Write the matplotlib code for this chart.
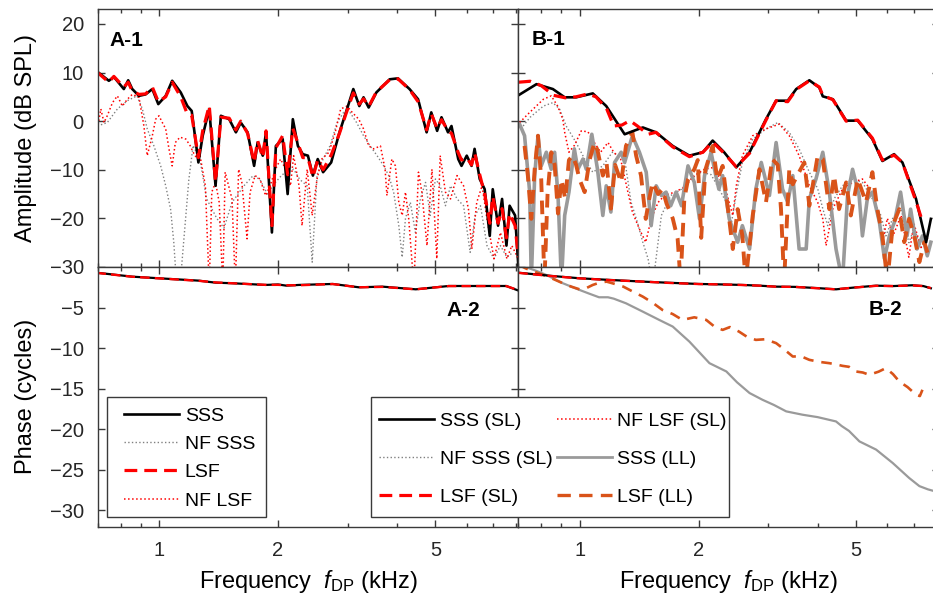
import numpy as np
import matplotlib
matplotlib.use("Agg")
import matplotlib.pyplot as plt
from matplotlib.ticker import FixedLocator, NullFormatter
from matplotlib.patches import Rectangle

plt.rcParams['font.family'] = ['Liberation Sans', 'DejaVu Sans']
plt.rcParams['mathtext.fontset'] = 'custom'
plt.rcParams['mathtext.rm'] = 'Liberation Sans'
plt.rcParams['mathtext.it'] = 'Liberation Sans:italic'
plt.rcParams['axes.unicode_minus'] = True

# ---- A-1 amplitude (dB SPL) ----
a1_f = [0.695, 0.747, 0.769, 0.815, 0.836, 0.856, 0.89, 0.925, 0.962, 0.996,
        1.04, 1.08, 1.135, 1.18, 1.21, 1.258, 1.29, 1.34, 1.39, 1.434,
        1.505, 1.565, 1.61, 1.675, 1.74, 1.776, 1.83, 1.865, 1.93, 1.975,
        2.055, 2.115, 2.18, 2.245, 2.31, 2.38, 2.45, 2.52, 2.6, 2.725,
        2.86, 2.97, 3.1, 3.21, 3.29, 3.39, 3.545, 3.83, 4.02, 4.3,
        4.52, 4.75, 4.88, 5.05, 5.18, 5.38, 5.49, 5.71, 5.82, 6.0,
        6.17, 6.28, 6.47, 6.66, 6.86, 6.98, 7.2, 7.37, 7.56, 7.7,
        7.95, 8.1]
a1_sss = [10.3, 8.3, 9.1, 6.6, 8.4, 6.6, 5.2, 5.5, 6.6, 3.5,
          5.2, 8.3, 5.9, 3.1, 2.1, -8.5, -3.0, 2.5, -13.3, 1.1,
          0.4, -2.3, -0.3, -2.3, -9.2, -4.4, -7.1, -2.3, -22.9, -5.1,
          -3.7, -15.0, 0.4, -5.1, -6.8, -7.1, -11.2, -7.8, -10.5, -8.5,
          -2.3, 1.8, 6.6, 3.1, 4.9, 2.8, 5.9, 8.6, 8.8, 6.6,
          4.5, -2.3, 1.8, -2.0, 0.8, -2.3, -1.0, -7.8, -9.2, -7.1,
          -9.2, -5.7, -11.9, -14.0, -23.6, -14.0, -21.5, -16.0, -25.6, -17.4,
          -19.4, -29.7]
a1_lsf = [10.2, 8.0, 9.2, 7.0, 8.0, 6.2, 5.5, 5.6, 7.0, 4.0,
          5.0, 8.0, 5.0, 1.4, 1.2, -7.5, -2.0, 3.2, -12.5, 0.8,
          0.6, -1.8, 0.0, -2.5, -8.5, -4.0, -7.5, -2.0, -21.5, -5.5,
          -3.0, -11.0, -1.5, -4.5, -7.5, -7.5, -11.5, -8.0, -10.0, -7.0,
          -2.5, 1.5, 5.8, 3.5, 4.6, 3.0, 6.0, 8.5, 8.7, 6.5,
          4.0, -1.8, 1.5, -1.5, 0.3, -2.0, -2.5, -6.5, -8.0, -7.5,
          -9.0, -6.5, -11.0, -15.0, -21.0, -15.5, -21.0, -18.0, -24.0, -19.0,
          -21.5, -28.0]

a1_nflsf_f = [0.699, 0.713, 0.726, 0.74, 0.763, 0.785, 0.808, 0.832, 0.856, 0.89,
              0.916, 0.934, 0.962, 0.981, 1.0, 1.02, 1.04, 1.06, 1.08, 1.1,
              1.13, 1.17, 1.2, 1.22, 1.25, 1.27, 1.31, 1.34, 1.36, 1.39,
              1.42, 1.45, 1.47, 1.5, 1.53, 1.56, 1.59, 1.62, 1.67, 1.7,
              1.75, 1.8, 1.86, 1.91, 1.97, 2.03, 2.09, 2.15, 2.19, 2.26,
              2.3, 2.37, 2.44, 2.51, 2.58, 2.69, 2.79, 2.88, 2.99, 3.08,
              3.2, 3.29, 3.39, 3.49, 3.63, 3.73, 3.77, 3.88, 3.96, 4.04,
              4.12, 4.2, 4.28, 4.41, 4.53, 4.62, 4.76, 4.9, 5.04, 5.14,
              5.3, 5.46, 5.67, 5.89, 6.06, 6.18, 6.36, 6.56, 6.75, 7.03,
              7.3, 7.58, 7.8, 8.1]
a1_nflsf = [-1.6, 2.5, -0.3, 1.1, 3.8, 5.2, 3.1, 4.5, 5.5, 4.9,
            -1.0, -7.1, -3.0, 0.4, 1.1, -0.3, -1.6, -5.7, -9.2, -4.4,
            -3.3, -3.7, -5.1, -6.4, -7.8, -7.1, -13.3, -34, -14.6, -12.6,
            -16.7, -34, -10.5, -13.3, -16.0, -34, -9.9, -12.6, -24.2, -14.6,
            -11.2, -11.9, -15.3, -13.3, -9.9, -7.8, -9.9, -13.3, -7.1, -13.3,
            -21.5, -9.9, -19.4, -11.9, -7.8, -6.4, -2.3, 2.5, 3.1, 1.8,
            0.4, -1.6, -5.1, -5.7, -5.1, -9.9, -15.3, -7.8, -9.2, -16.7,
            -19.4, -14.6, -20.1, -34, -10.5, -14.6, -25.6, -9.9, -28.3, -7.1,
            -14.6, -16.0, -11.2, -13.3, -18.1, -26.3, -16.7, -13.3, -20.1, -28.3,
            -22.9, -28.3, -25.6, -28.3]

a1_nfsss_f = [0.699, 0.74, 0.785, 0.832, 0.88, 0.908, 0.934, 0.971, 1.01, 1.04,
              1.07, 1.09, 1.1, 1.13, 1.19, 1.22, 1.27, 1.32, 1.36, 1.4,
              1.46, 1.53, 1.64, 1.73, 1.8, 1.88, 1.95, 2.05, 2.19, 2.27,
              2.37, 2.44, 2.51, 2.6, 2.71, 2.82, 2.93, 3.04, 3.16, 3.29,
              3.42, 3.56, 3.7, 3.81, 3.92, 4.04, 4.12, 4.2, 4.32, 4.45,
              4.58, 4.72, 4.85, 5.0, 5.14, 5.3, 5.46, 5.67, 5.89, 6.12,
              6.3, 6.5, 6.75, 7.03, 7.3, 7.58, 7.85]
a1_nfsss = [-1.0, -0.3, 2.5, 4.2, 5.2, 2.5, -1.6, -5.1, -9.2, -13.3,
            -18.1, -24.9, -29.7, -34, -12.0, -5.0, -8.0, -16.0, -18.0, -20.0,
            -22.0, -16.7, -13.3, -11.2, -12.0, -15.0, -13.0, -11.0, -9.9, -12.0,
            -13.3, -29.0, -11.0, -7.8, -5.0, -0.3, 1.8, 1.8, -0.3, -3.0,
            -5.1, -7.1, -9.2, -11.2, -14.6, -21.5, -28.0, -20.0, -16.7, -22.9,
            -16.0, -12.6, -19.4, -11.9, -13.3, -17.4, -13.3, -16.0, -17.4, -27.0,
            -19.4, -17.4, -25.6, -28.3, -25.6, -28.0, -27.0]

# ---- B-1 amplitude (dB SPL) ----
b1_sss_f = [0.70, 0.778, 0.856, 0.917, 0.98, 1.08, 1.168, 1.30, 1.445, 1.56,
            1.72, 1.895, 2.05, 2.17, 2.32, 2.49, 2.69, 2.96, 3.14, 3.36,
            3.53, 3.81, 4.04, 4.12, 4.37, 4.72, 5.05, 5.5, 5.83, 6.24,
            6.55, 7.09, 7.52, 7.73]
b1_sss = [5.3, 7.6, 6.6, 4.9, 4.9, 5.7, 3.1, -2.7, -1.3, -2.3,
          -5.1, -7.1, -6.4, -4.0, -6.4, -9.5, -6.4, 0.4, 4.2, 4.2,
          6.6, 8.4, 6.9, 5.1, 4.5, 0.1, 0.1, -3.7, -8.2, -6.8,
          -8.5, -16.0, -24.9, -20.1]

b1_lsf_f = [0.70, 0.75, 0.80, 0.86, 0.92, 0.98, 1.05, 1.1, 1.17, 1.22,
            1.28, 1.34, 1.40, 1.49, 1.56, 1.72, 1.895, 2.05, 2.17, 2.32,
            2.49, 2.69, 2.96, 3.14, 3.36, 3.53, 3.81, 4.04, 4.12, 4.37,
            4.72, 5.05, 5.5, 5.83, 6.24, 6.55, 7.09, 7.35]
b1_lsf = [8.0, 8.2, 7.3, 5.3, 4.8, 5.0, 5.6, 5.0, 2.6, -1.0,
          -0.8, 0.1, -1.0, -2.7, -2.3, -5.3, -7.3, -6.4, -4.3, -6.6,
          -9.4, -6.6, 0.2, 4.2, 4.0, 6.5, 8.3, 7.0, 5.3, 4.4,
          0.0, 0.2, -3.5, -8.0, -7.0, -8.5, -16.5, -20.5]

b1_nflsf_f = [0.705, 0.748, 0.81, 0.848, 0.88, 0.907, 0.917, 0.94, 0.97, 1.01,
              1.05, 1.09, 1.13, 1.18, 1.22, 1.27, 1.32, 1.36, 1.417, 1.47,
              1.517, 1.58, 1.64, 1.74, 1.84, 1.95, 2.07, 2.19, 2.35, 2.44,
              2.49, 2.58, 2.74, 2.96, 3.2, 3.39, 3.59, 3.81, 4.0, 4.12,
              4.2, 4.37, 4.62, 4.9, 5.19, 5.5, 5.73, 5.83, 6.0, 6.2,
              6.5, 6.8, 7.0, 7.3, 7.6]
b1_nflsf = [-0.3, 1.8, 4.5, 5.2, 3.1, 0.4, -2.3, -6.4, -5.0, -2.0,
            -2.2, -4.4, -6.4, -4.4, -6.4, -7.8, -14.0, -18.7, -22.2, -24.9,
            -20.1, -16.7, -15.3, -14.6, -13.6, -11.2, -9.9, -9.5, -14.6, -19.4,
            -13.3, -7.1, -3.0, -1.6, -0.6, -3.0, -7.1, -13.3, -16.7, -20.1,
            -25.6, -18.0, -14.0, -12.6, -11.9, -14.6, -20.1, -24.9, -20.0, -23.6,
            -19.4, -28.0, -21.0, -26.0, -24.0]

b1_nfsss_f = [0.72, 0.75, 0.81, 0.856, 0.89, 0.925, 0.98, 1.03, 1.08, 1.145,
              1.21, 1.3, 1.35, 1.4, 1.445, 1.49, 1.5, 1.53, 1.61, 1.7,
              1.81, 1.91, 2.03, 2.15, 2.22, 2.35, 2.42, 2.49, 2.58, 2.74,
              2.96, 3.17, 3.39, 3.59, 3.81, 4.0, 4.12, 4.24, 4.4, 4.62,
              4.9, 5.19, 5.5, 5.78, 5.95, 6.19, 6.5, 6.8, 7.02, 7.28,
              7.57]
b1_nfsss = [-1.0, 0.8, 3.1, 3.8, 2.5, -1.0, -4.4, -7.8, -10.5, -9.2,
            -6.4, -7.8, -16.7, -20.8, -24.9, -28.3, -29.7, -34, -19.4, -15.3,
            -14.0, -11.9, -10.5, -11.0, -13.0, -16.7, -21.0, -15.0, -8.5, -3.7,
            -1.6, -0.3, -2.3, -5.7, -10.5, -13.9, -18.0, -21.5, -16.0, -13.3,
            -11.9, -12.6, -16.0, -19.4, -23.6, -20.0, -18.0, -25.0, -22.0, -26.0,
            -24.0]

b1_sssll_f = [0.70, 0.705, 0.726, 0.748, 0.755, 0.77, 0.785, 0.80, 0.824, 0.848,
              0.865, 0.882, 0.90, 0.917, 0.94, 0.97, 0.99, 1.02, 1.04, 1.074,
              1.11, 1.145, 1.168, 1.20, 1.226, 1.274, 1.30, 1.36, 1.417, 1.474,
              1.517, 1.562, 1.61, 1.655, 1.70, 1.755, 1.81, 1.88, 1.95, 2.01,
              2.07, 2.15, 2.21, 2.25, 2.30, 2.39, 2.44, 2.51, 2.58, 2.69,
              2.79, 2.88, 3.02, 3.14, 3.26, 3.36, 3.46, 3.59, 3.74, 3.81,
              3.96, 4.12, 4.28, 4.45, 4.62, 4.76, 4.9, 5.09, 5.19, 5.34,
              5.5, 5.73, 5.9, 6.07, 6.25, 6.48, 6.73, 6.87, 7.13, 7.36,
              7.57, 7.73]
b1_sssll = [-0.8, -0.6, -3.0, -14.6, -33, -11.2, -3.0, -9.2, -6.4, -9.9,
            -6.4, -15.3, -33, -19.4, -14.6, -5.7, -9.9, -7.8, -9.9, -2.7,
            -9.9, -19.4, -13.3, -18.7, -8.5, -6.4, -8.5, -3.0, -6.4, -10.5,
            -21.5, -13.3, -15.3, -14.6, -17.4, -14.6, -17.4, -9.2, -12.6, -20.1,
            -11.2, -6.4, -11.2, -14.0, -11.2, -20.1, -22.2, -24.9, -21.5, -26.3,
            -14.0, -8.5, -15.3, -4.4, -14.0, -16.7, -11.2, -26.3, -26.3, -16.0,
            -11.9, -6.4, -14.6, -26.3, -33, -15.3, -9.9, -15.3, -23.6, -16.0,
            -14.6, -20.8, -28.3, -23.6, -20.8, -14.6, -23.6, -18.1, -26.3, -23.6,
            -27.7, -24.9]

b1_lsfll_f = [0.726, 0.74, 0.755, 0.77, 0.785, 0.80, 0.815, 0.83, 0.848, 0.865,
              0.882, 0.90, 0.92, 0.94, 0.96, 0.98, 1.0, 1.03, 1.06, 1.09,
              1.11, 1.145, 1.17, 1.2, 1.23, 1.274, 1.31, 1.36, 1.39, 1.43,
              1.47, 1.5, 1.53, 1.58, 1.62, 1.66, 1.72, 1.77, 1.80, 1.84,
              1.88, 1.95, 1.99, 2.03, 2.08, 2.17, 2.23, 2.3, 2.35, 2.44,
              2.51, 2.58, 2.63, 2.74, 2.85, 2.96, 3.07, 3.17, 3.23, 3.29,
              3.39, 3.46, 3.55, 3.7, 3.81, 4.0, 4.12, 4.28, 4.4, 4.53,
              4.72, 4.85, 5.05, 5.3, 5.5, 5.66, 5.83, 6.0, 6.19, 6.43,
              6.62, 6.81, 7.02, 7.23, 7.44, 7.66]
b1_lsfll = [-5.1, -11.2, -20.1, -9.9, -3.0, -12.0, -33, -15.0, -6.4, -9.0,
            -19.0, -12.0, -16.0, -8.0, -7.1, -9.0, -12.0, -14.6, -8.0, -4.4,
            -6.0, -11.2, -8.5, -18.0, -9.0, -12.6, -5.1, -2.3, -7.1, -11.2,
            -20.1, -16.0, -12.6, -15.0, -14.0, -17.0, -20.0, -24.2, -33, -16.0,
            -12.0, -9.9, -8.0, -24.0, -10.0, -5.1, -12.0, -9.2, -15.3, -26.3,
            -18.1, -23.6, -33, -19.4, -9.9, -16.7, -7.8, -9.0, -18.0, -33,
            -9.9, -13.0, -11.2, -8.5, -17.4, -7.1, -7.8, -18.1, -11.2, -18.1,
            -12.6, -19.4, -11.9, -16.7, -10.5, -18.1, -23.6, -33, -21.5, -18.1,
            -24.9, -20.1, -23.6, -29.0, -24.9, -28.3]

# ---- A-2 phase (cycles) ----
a2_f = [0.695, 0.856, 1.0, 1.26, 1.39, 1.53, 1.86, 2.0, 2.1, 2.26,
        2.75, 3.2, 3.67, 4.46, 5.4, 6.56, 7.55, 8.1]
a2_sss = [-0.70, -1.19, -1.39, -1.68, -1.93, -2.0, -2.21, -2.15, -2.3, -2.21,
          -2.09, -2.50, -2.42, -2.75, -2.34, -2.34, -2.34, -2.9]
a2_lsf = [-0.72, -1.2, -1.4, -1.7, -1.9, -2.0, -2.2, -2.2, -2.25, -2.25,
          -2.1, -2.5, -2.45, -2.75, -2.35, -2.35, -2.35, -2.85]

# ---- B-2 phase (cycles) ----
b2_f = [0.70, 0.85, 1.0, 1.2, 1.445, 1.7, 2.0, 2.3, 2.58, 2.85,
        3.14, 3.5, 4.0, 4.45, 4.9, 5.62, 6.2, 6.94, 7.4, 7.73]
b2_sss = [-0.70, -1.10, -1.39, -1.60, -1.80, -1.95, -2.09, -2.15, -2.21, -2.30,
          -2.42, -2.45, -2.60, -2.75, -2.55, -2.30, -2.35, -2.25, -2.35, -2.62]
b2_lsf = [-0.72, -1.12, -1.40, -1.62, -1.80, -1.97, -2.10, -2.15, -2.22, -2.30,
          -2.43, -2.45, -2.62, -2.75, -2.55, -2.32, -2.35, -2.27, -2.35, -2.60]

b2_sssll_f = [0.70, 0.73, 0.78, 0.824, 0.907, 1.0, 1.06, 1.12, 1.18, 1.22,
              1.31, 1.445, 1.59, 1.72, 1.895, 2.13, 2.35, 2.5, 2.69, 2.9,
              3.1, 3.33, 3.66, 4.0, 4.45, 4.6, 4.8, 5.1, 5.62, 6.19,
              6.81, 7.23, 7.6, 8.0]
b2_sssll = [0.3, 0.0, -0.5, -0.98, -2.0, -2.83, -3.3, -3.73, -3.73, -3.9,
            -4.47, -5.5, -6.52, -7.34, -9.19, -11.85, -12.87, -14.2, -15.53, -16.36,
            -17.0, -17.79, -18.2, -18.5, -19.03, -19.6, -20.2, -21.49, -22.5, -24.15,
            -25.99, -27.0, -27.4, -27.7]

b2_lsfll_f = [0.70, 0.73, 0.77, 0.81, 0.86, 0.907, 0.95, 1.0, 1.04, 1.08,
              1.12, 1.17, 1.23, 1.29, 1.36, 1.445, 1.53, 1.62, 1.72, 1.82,
              1.95, 2.09, 2.2, 2.3, 2.4, 2.53, 2.65, 2.79, 2.95, 3.14,
              3.3, 3.46, 3.63, 3.81, 4.05, 4.28, 4.45, 4.62, 4.8, 4.99,
              5.2, 5.4, 5.7, 5.95, 6.2, 6.43, 6.75, 7.09, 7.25, 7.36]
b2_lsfll = [0.3, -0.16, -0.6, -0.98, -1.5, -2.0, -2.4, -2.75, -2.6, -2.21,
            -1.95, -1.8, -2.1, -2.42, -3.0, -3.65, -4.4, -5.29, -5.8, -6.52,
            -6.2, -6.52, -7.4, -7.75, -7.4, -7.96, -8.6, -8.98, -8.9, -9.38,
            -10.2, -11.03, -11.0, -11.44, -11.7, -11.85, -12.0, -12.18, -12.3, -12.87,
            -13.0, -13.28, -12.9, -12.46, -13.2, -14.1, -14.8, -15.74, -15.9, -15.13]

amp_ticks = [20, 10, 0, -10, -20, -30]
phase_ticks = [-5, -10, -15, -20, -25, -30]
freq_major = [1, 2, 5]
freq_minor = [0.7, 0.8, 0.9, 3, 4, 6, 7, 8]

ORANGE = '#d95319'
LLGRAY = '#9a9a9a'
NFGRAY = '#808080'
SPINE = '#3a3a3a'

fig = plt.figure(figsize=(9.33, 5.98), dpi=100)
W, H = 933.0, 598.0
x0, xm, wpx = 97.7, 518.3, 420.6
ytop, ymid, ybot = 9.3, 267.0, 526.7


def px_axes(left, top, width, height):
    return fig.add_axes([left / W, 1 - (top + height) / H, width / W, height / H])


axA1 = px_axes(x0, ytop, wpx, ymid - ytop)
axB1 = px_axes(xm, ytop, wpx, ymid - ytop)
axA2 = px_axes(x0, ymid, wpx, ybot - ymid)
axB2 = px_axes(xm, ymid, wpx, ybot - ymid)

for ax in (axA1, axB1, axA2, axB2):
    ax.set_xscale('log')
    ax.set_xlim(0.7, 8.1)
    ax.xaxis.set_major_locator(FixedLocator(freq_major))
    ax.xaxis.set_minor_locator(FixedLocator(freq_minor))
    ax.xaxis.set_minor_formatter(NullFormatter())
    ax.tick_params(which='both', direction='in', top=True, right=True,
                   colors=SPINE, labelcolor='#262626', labelsize=14.5, pad=10)
    ax.tick_params(which='major', length=5, width=1)
    ax.tick_params(which='minor', length=3, width=1)
    for s in ax.spines.values():
        s.set_color(SPINE)
        s.set_linewidth(1.0)

for ax in (axA1, axB1):
    ax.set_ylim(-30, 23)
    ax.set_yticks(amp_ticks)
    ax.tick_params(labelbottom=False)
for ax in (axA2, axB2):
    ax.set_ylim(-32, 0)
    ax.set_yticks(phase_ticks)
    ax.set_xticklabels(['1', '2', '5'])
for ax in (axB1, axB2):
    ax.tick_params(labelleft=False)

lw_main = 1.9
lw_dash = 2.3
dash = (4, 2.2)

# A-1
axA1.plot(a1_nfsss_f, a1_nfsss, ':', color=NFGRAY, lw=1.0)
axA1.plot(a1_nflsf_f, a1_nflsf, ':', color='red', lw=1.1)
axA1.plot(a1_f, a1_sss, '-', color='black', lw=lw_main)
axA1.plot(a1_f, a1_lsf, '--', color='red', lw=lw_dash, dashes=dash)

# B-1
axB1.plot(b1_nfsss_f, b1_nfsss, ':', color=NFGRAY, lw=1.0)
axB1.plot(b1_nflsf_f, b1_nflsf, ':', color='red', lw=1.1)
axB1.plot(b1_sssll_f, b1_sssll, '-', color=LLGRAY, lw=2.6)
axB1.plot(b1_lsfll_f, b1_lsfll, '--', color=ORANGE, lw=2.8, dashes=(3.5, 2.2))
axB1.plot(b1_sss_f, b1_sss, '-', color='black', lw=lw_main)
axB1.plot(b1_lsf_f, b1_lsf, '--', color='red', lw=lw_dash, dashes=dash)

# A-2
axA2.plot(a2_f, a2_sss, '-', color='black', lw=1.6)
axA2.plot(a2_f, a2_lsf, '--', color='red', lw=1.7, dashes=dash)

# B-2
axB2.plot(b2_sssll_f, b2_sssll, '-', color=LLGRAY, lw=1.6)
axB2.plot(b2_lsfll_f, b2_lsfll, '--', color=ORANGE, lw=1.9, dashes=(4, 3))
axB2.plot(b2_f, b2_sss, '-', color='black', lw=1.6)
axB2.plot(b2_f, b2_lsf, '--', color='red', lw=1.7, dashes=dash)

# panel labels
lab = dict(fontsize=15, fontweight='bold', color='black')
axA1.text(0.029, 0.879, 'A-1', transform=axA1.transAxes, va='center', ha='left', **lab)
axB1.text(0.032, 0.882, 'B-1', transform=axB1.transAxes, va='center', ha='left', **lab)
axA2.text(0.87, 0.834, 'A-2', transform=axA2.transAxes, va='center', ha='center', **lab)
axB2.text(0.872, 0.838, 'B-2', transform=axB2.transAxes, va='center', ha='center', **lab)

axA1.set_ylabel('Amplitude (dB SPL)', fontsize=17, labelpad=9)
axA2.set_ylabel('Phase (cycles)', fontsize=17, labelpad=9)
xlab = r'Frequency  $\mathit{f}_{\mathrm{DP}}$ (kHz)'
axA2.set_xlabel(xlab, fontsize=17, labelpad=6)
axB2.set_xlabel(xlab, fontsize=17, labelpad=6)

# legend boxes (drawn at figure level, on top of the axes)
for (bx0, bx1) in ((107.3, 266.3), (371.0, 729.0)):
    fig.patches.append(Rectangle((bx0 / W, 1 - 516.7 / H), (bx1 - bx0) / W, 120.0 / H,
                                 transform=fig.transFigure, facecolor='white',
                                 edgecolor=SPINE, lw=1.0, zorder=4))

# legend handles (proxy lines)
mk = lambda **kw: plt.Line2D([], [], **kw)
h_sss = mk(color='black', lw=lw_main)
h_nfsss = mk(color=NFGRAY, lw=1.0, ls=':')
h_lsf = mk(color='red', lw=lw_dash, ls='--', dashes=dash)
h_nflsf = mk(color='red', lw=1.1, ls=':')
h_sssll = mk(color=LLGRAY, lw=2.0)
h_lsfll = mk(color=ORANGE, lw=2.4, ls='--', dashes=(4, 2.5))

leg_kw = dict(fontsize=14, frameon=False, handlelength=2.83, handletextpad=0.3,
              loc='upper left', borderaxespad=0, borderpad=0)
legA = fig.legend([h_sss, h_nfsss, h_lsf, h_nflsf], ['SSS', 'NF SSS', 'LSF', 'NF LSF'],
                  bbox_to_anchor=(124.0 / W, 1 - 407.0 / H), labelspacing=0.55, **leg_kw)
legB = fig.legend([h_sss, h_nfsss, h_lsf, h_nflsf, h_sssll, h_lsfll],
                  ['SSS (SL)', 'NF SSS (SL)', 'LSF (SL)', 'NF LSF (SL)', 'SSS (LL)', 'LSF (LL)'],
                  ncol=2, columnspacing=0.2,
                  bbox_to_anchor=(379.0 / W, 1 - 412.5 / H), labelspacing=1.04, **leg_kw)
for lg in (legA, legB):
    lg.set_zorder(6)

fig.savefig('out.png', dpi=100)
